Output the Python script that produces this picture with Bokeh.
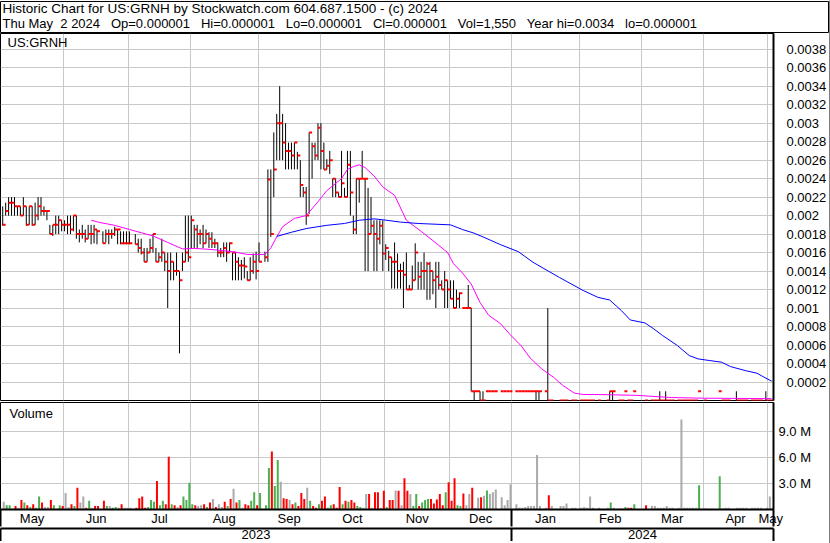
import numpy as np
import pandas as pd
from bokeh.plotting import figure
from bokeh.layouts import column, row
from bokeh.models import (ColumnDataSource, Range1d, LinearAxis, FixedTicker,
                          Grid, Label)
from bokeh.transform import dodge
from bokeh.embed import file_html
from bokeh.resources import INLINE

# ------------------------------------------------------------------ data
symbol = "US:GRNH"
header_line1 = "Historic Chart for US:GRNH by Stockwatch.com 604.687.1500 - (c) 2024"
header_line2 = ("Thu May\u00a0\u00a02 2024\u00a0\u00a0\u00a0Op=0.000001\u00a0\u00a0\u00a0"
                "Hi=0.000001\u00a0\u00a0\u00a0Lo=0.000001\u00a0\u00a0\u00a0Cl=0.000001"
                "\u00a0\u00a0\u00a0Vol=1,550\u00a0\u00a0\u00a0Year hi=0.0034\u00a0\u00a0\u00a0lo=0.000001")

first_day = "2023-05-03"
last_day = "2024-05-02"

# daily prices in units of 0.0001 (None = no trade that day)
high_e4 = [
    21.0, 21.4, 22.0, 22.0, 22.0, 21.0, 21.0, 22.0, 21.0, 21.0,
    21.0, 21.4, 22.0, 22.0, 21.0, 20.5, 19.0, 19.0, 20.0, 20.0,
    19.5, 19.5, 20.0, 20.0, 20.0, 20.0, 18.5, 19.0, 18.5, 19.0,
    19.0, 19.0, 18.5, None, 18.3, 18.5, 18.5, 18.5, 18.8, 18.5,
    18.3, 18.3, 18.3, 18.3, None, 18.0, 17.5, 17.5, 16.5, 16.5,
    17.5, 18.0, 16.5, 16.0, 17.5, 16.0, 16.0, 16.0, 15.0, 16.0,
    14.0, 16.0, 20.0, 20.0, 20.0, 19.0, 19.0, 18.5, 19.0, 18.5,
    18.2, 18.2, 17.5, 17.1, 16.5, 17.1, 17.1, 17.1, 16.0, 16.0,
    15.5, 15.2, 15.5, 14.0, 15.5, 15.9, 16.1, 17.1, None, 16.1,
    25.0, 25.0, 29.0, 31.0, 34.0, 31.0, 30.0, 27.9, 27.9, 27.9,
    26.9, 26.0, 23.1, 23.1, 29.0, 27.9, 27.9, 30.0, 30.0, 27.9,
    26.1, 27.0, 24.0, 24.0, 22.5, 27.0, 23.0, 27.0, 27.0, 20.0,
    24.0, 24.0, 27.0, 24.0, 23.0, 22.0, 19.5, 19.5, 19.5, 19.5,
    16.9, 16.2, 15.5, 17.1, 15.9, 14.8, 15.0, 16.0, 12.5, 14.6,
    17.0, 15.0, 15.0, 16.0, 15.0, 15.0, 14.0, 15.0, 15.0, 13.0,
    14.0, 13.0, 13.0, 13.0, 12.0, 11.7, 10.0, 10.0, 12.5, 10.0,
    1.0, 1.0, 1.0, 1.0, 1.0, 1.0, 1.0, 1.0, None, 1.0,
    1.0, 1.0, 1.0, None, 1.0, 1.0, 1.0, 1.0, 1.0, 1.0,
    1.0, 1.0, 1.0, None, 1.0, 10.0, 0.01, None, None, 0.01,
    0.01, 0.01, None, 0.01, 0.01, None, 0.01, 0.01, 0.01, 0.01,
    0.01, None, 0.01, None, None, 0.01, 1.0, 1.0, None, 0.01,
    0.01, 1.0, 0.01, 0.01, 1.0, None, None, None, 0.01, None,
    0.01, 0.01, 0.01, 1.0, 0.01, 1.0, 0.01, 0.01, None, 0.01,
    0.01, 0.01, 0.01, 0.01, 0.01, 0.01, 1.0, None, 0.01, None,
    None, None, None, 1.0, 0.01, 0.01, 0.01, None, None, 1.0,
    0.01, 0.01, 0.01, None, 0.01, 0.01, 0.01, 0.01, None, 1.0, 0.01, 0.01,
]
low_e4 = [
    18.9, 20.0, 20.0, 20.0, 20.0, 20.0, 20.0, 20.0, 18.9, 19.0,
    18.9, 19.0, 19.5, 20.0, 20.0, 19.5, 18.0, 17.8, 18.0, 18.0,
    18.3, 18.3, 18.0, 18.0, 18.3, 17.5, 17.1, 17.5, 17.1, 17.5,
    16.9, 17.0, 16.9, None, 17.0, 17.1, 16.9, 17.5, 17.8, 16.9,
    16.9, 16.9, 16.9, 16.9, None, 16.9, 16.0, 15.8, 15.0, 15.0,
    16.0, 16.0, 15.0, 15.0, 15.0, 14.0, 10.0, 13.0, 13.0, 13.5,
    5.1, 14.0, 15.0, 15.0, 16.5, 16.5, 16.5, 16.9, 16.5, 17.0,
    16.5, 16.5, 16.5, 15.5, 15.5, 15.5, 15.0, 16.0, 13.0, 13.0,
    13.0, 13.0, 13.2, 13.0, 13.0, 13.7, 13.1, 15.0, None, 15.0,
    15.0, 17.7, 22.0, 26.0, 26.0, 26.0, 25.0, 25.0, 25.0, 25.0,
    25.0, 22.0, 22.0, 19.0, 20.2, 24.0, 26.0, 26.0, 25.0, 25.0,
    25.0, 24.5, 22.0, 22.0, 22.0, 22.0, 22.0, 22.0, 20.0, 18.0,
    18.0, 21.4, 24.0, 14.0, 14.0, 18.0, 14.0, 14.0, 16.9, 14.0,
    15.2, 14.0, 12.1, 12.1, 12.1, 12.1, 10.0, 12.0, 12.0, 12.0,
    13.0, 12.0, 12.0, 12.0, 10.9, 10.9, 11.5, 10.0, 12.0, 12.0,
    10.0, 10.0, 11.0, 10.0, 10.0, 10.0, 10.0, 10.0, 10.0, 1.0,
    0.01, 1.0, 0.01, 0.01, 1.0, 1.0, 1.0, 1.0, None, 1.0,
    1.0, 1.0, 1.0, None, 1.0, 1.0, 1.0, 1.0, 1.0, 1.0,
    1.0, 0.01, 0.01, None, 1.0, 0.01, 0.01, None, None, 0.01,
    0.01, 0.01, None, 0.01, 0.01, None, 0.01, 0.01, 0.01, 0.01,
    0.01, None, 0.01, None, None, 0.01, 0.01, 0.01, None, 0.01,
    0.01, 1.0, 0.01, 0.01, 1.0, None, None, None, 0.01, None,
    0.01, 0.01, 0.01, 0.01, 0.01, 0.01, 0.01, 0.01, None, 0.01,
    0.01, 0.01, 0.01, 0.01, 0.01, 0.01, 1.0, None, 0.01, None,
    None, None, None, 1.0, 0.01, 0.01, 0.01, None, None, 0.01,
    0.01, 0.01, 0.01, None, 0.01, 0.01, 0.01, 0.01, None, 0.01, 0.01, 0.01,
]
close_e4 = [
    19.0, 20.5, 21.4, 21.4, 21.0, 21.0, 20.0, 21.0, 19.0, 21.0,
    19.0, 20.0, 21.0, 20.5, 20.5, 20.5, 18.0, 19.0, 19.0, 19.5,
    19.0, 19.0, 19.0, 18.5, 20.0, 18.0, 18.0, 18.0, 17.5, 18.0,
    18.0, 18.5, 18.3, None, 17.0, 18.0, 18.0, 18.0, 18.5, 18.5,
    17.0, 17.0, 17.0, 17.0, None, 16.9, 16.5, 16.0, 15.0, 16.0,
    16.5, 18.0, 15.0, 15.5, 16.0, 15.0, 14.0, 15.0, 14.0, 14.0,
    13.0, 15.0, 16.0, 15.5, 19.5, 18.5, 18.0, 18.0, 17.0, 18.0,
    17.5, 17.0, 17.0, 16.0, 16.0, 16.5, 16.0, 17.0, 16.0, 15.0,
    14.6, 14.6, 14.5, 13.0, 14.0, 15.0, 14.0, 15.0, None, 15.5,
    23.9, 18.0, 25.0, 30.0, 30.0, 27.9, 27.0, 27.0, 26.5, 27.9,
    26.5, 23.3, 22.5, 20.0, 29.0, 27.5, 26.5, 29.5, 27.0, 25.0,
    25.4, 26.0, 24.0, 22.5, 22.0, 23.5, 22.0, 25.5, 22.5, 18.5,
    24.0, 24.0, 24.0, 24.0, 18.0, 18.9, 18.0, 17.5, 18.9, 15.9,
    16.5, 15.5, 15.0, 15.0, 14.0, 14.0, 13.6, 12.0, 12.0, 13.0,
    16.0, 13.4, 14.0, 14.0, 14.8, 14.0, 13.0, 13.4, 12.5, 12.0,
    13.0, 12.0, 11.0, 10.0, 11.0, 11.6, 10.0, 10.0, 10.0, 1.0,
    1.0, 1.0, 0.01, 0.01, 1.0, 1.0, 1.0, 1.0, None, 1.0,
    1.0, 1.0, 1.0, None, 1.0, 1.0, 1.0, 1.0, 1.0, 1.0,
    1.0, 1.0, 1.0, None, 1.0, 0.01, 0.01, None, None, 0.01,
    0.01, 0.01, None, 0.01, 0.01, None, 0.01, 0.01, 0.01, 0.01,
    0.01, None, 0.01, None, None, 0.01, 1.0, 1.0, None, 0.01,
    0.01, 1.0, 0.01, 0.01, 1.0, None, None, None, 0.01, None,
    0.01, 0.01, 0.01, 0.01, 0.01, 0.01, 0.01, 0.01, None, 0.01,
    0.01, 0.01, 0.01, 0.01, 0.01, 0.01, 1.0, None, 0.01, None,
    None, None, None, 1.0, 0.01, 0.01, 0.01, None, None, 0.01,
    0.01, 0.01, 0.01, None, 0.01, 0.01, 0.01, 0.01, None, 0.01, 0.01, 0.01,
]
# daily volume, millions of shares
volume_m = [
    0.9, 0.5, 0.5, 0.1, 0.4, 0.2, 1.1, 0.8, 0.5, 0.3,
    0.6, 0.2, 1.5, 0.8, 0.3, 0.3, 1.1, 0.5, 0.1, 0.5,
    0.4, 1.9, 0.3, 0.6, 0.4, 2.5, 0.8, 1.5, 0.2, 1.0,
    0.2, 0.4, 0.4, None, 1.0, 0.4, 0.4, 0.2, 0.3, 0.2,
    0.6, 0.2, 0.2, 0.2, None, 0.2, 1.3, 1.5, 0.2, 0.3,
    1.1, 0.9, 3.3, 0.5, 1.0, 0.6, 6.1, 0.6, 0.5, 0.3,
    0.5, 1.5, 1.1, 3.1, 0.6, 0.5, 0.4, 0.5, 0.6, 0.3,
    0.8, 1.2, 0.3, 0.6, 0.3, 0.9, 0.4, 1.2, 2.4, 0.8,
    1.1, 0.2, 0.6, 0.5, 1.0, 2.0, 0.5, 1.9, None, 0.5,
    4.8, 6.7, 2.7, 5.7, 3.2, 1.3, 1.2, 1.1, 0.6, 0.8,
    0.4, 1.9, 1.2, 2.5, 1.0, 0.4, 0.2, 0.6, 1.0, 1.5,
    0.2, 0.5, 0.6, 0.2, 2.6, 0.6, 1.0, 0.9, 1.1, 0.8,
    0.4, 0.3, 0.2, 1.8, 1.8, 0.2, 2.0, 2.0, 0.2, 2.15,
    0.3, 1.1, 1.1, 2.2, 2.15, 0.5, 3.6, 2.15, 1.8, 0.4,
    1.8, 0.4, 0.8, 1.1, 1.2, 1.2, 0.7, 1.15, 1.8, 0.5,
    2.0, 3.15, 1.0, 3.6, 0.5, 0.4, 1.85, 0.5, 1.8, 2.5,
    0.2, 1.35, 1.4, 1.6, 2.2, 1.8, 2.0, 2.3, None, 1.4,
    0.5, 1.1, 2.9, None, 0.6, 0.2, 0.2, 0.3, 0.4, 0.4,
    0.4, 6.3, 0.4, None, 0.2, 1.65, 0.4, None, None, 0.4,
    0.4, 0.7, None, 0.2, 0.2, None, 0.2, 0.3, 0.2, 1.5,
    0.2, None, 0.2, None, None, 0.2, 0.8, 0.2, None, 0.1,
    0.1, 0.3, 0.2, 0.2, 0.6, None, None, None, 0.5, None,
    0.4, 0.4, 0.2, 0.2, 0.2, 0.4, 0.2, 0.2, None, 0.2,
    10.4, 0.2, 0.2, 0.2, 0.2, 0.2, 2.8, None, 0.1, None,
    None, None, None, 3.85, 0.1, 0.2, 0.2, None, None, 0.2,
    0.2, 0.2, 0.2, None, 0.2, 0.2, 0.2, 0.2, None, 0.2, 1.5, 0.2,
]
# day direction: u = up, d = down, n = unchanged, - = no trade
direction = ("nuundndudu duudnndunu dnndudnndu ndd-dunuun dnnn-ddddu "
             "uuduuddudn duuuudnndu dndnndudnd undduudu-u uduunddndu "
             "dddnuddudd uudddududd uunndnddnd uddndnddnu uduuuddddd "
             "uddduudnnd nndnunnn-n nnn-nnnnnn nnn-ndn--n nn-nn-nnnn "
             "n-n--nun-d duddu---d- nnnnnnnn-n nnnnnnu-d- ---udnn--n "
             "nnn-nnnn-nnn")

# moving averages (trading-day number, value in units of 0.0001)
ma_short_day = [30, 33, 38, 43, 47, 51, 56, 61, 65, 68, 72, 78, 83, 89, 91, 93, 95, 99,
                103, 107, 110, 115, 117, 119, 121, 123, 126, 129, 133, 137, 142, 146,
                151, 153, 156, 159, 162, 165, 169, 172, 176, 179, 183, 187, 190, 194,
                197, 201, 215, 227, 238, 261]
ma_short_e4 = [19.5, 19.25, 18.95, 18.5, 18.15, 17.8, 17.1, 16.4, 16.45, 16.4, 16.3, 16.1,
               15.8, 15.8, 16.5, 17.7, 18.8, 19.7, 20.0, 21.5, 22.7, 24.0, 25.0, 25.3,
               25.5, 25.2, 24.3, 23.1, 22.2, 19.5, 18.3, 17.3, 16.0, 14.8, 13.8, 12.6,
               10.6, 9.2, 8.3, 7.2, 5.9, 4.6, 3.4, 2.5, 1.65, 0.8, 0.65, 0.65, 0.56,
               0.32, 0.25, 0.2]
ma_long_day = [93, 98, 103, 110, 116, 121, 126, 129, 135, 141, 152, 156, 160, 163, 169,
               175, 180, 189, 197, 202, 206, 210, 213, 218, 221, 224, 229, 233, 236, 240,
               244, 247, 252, 256, 258, 261]
ma_long_e4 = [17.75, 18.2, 18.6, 18.95, 19.15, 19.5, 19.65, 19.55, 19.3, 19.15, 19.0,
              18.5, 18.1, 17.7, 16.85, 16.1, 14.95, 13.3, 11.9, 11.16, 10.87, 9.72, 8.71,
              8.39, 7.74, 7.02, 5.94, 4.86, 4.5, 4.32, 4.14, 3.67, 3.24, 2.95, 2.59, 2.09]

price_tick_labels = ["0.0002", "0.0004", "0.0006", "0.0008", "0.001", "0.0012", "0.0014",
                     "0.0016", "0.0018", "0.002", "0.0022", "0.0024", "0.0026", "0.0028",
                     "0.003", "0.0032", "0.0034", "0.0036", "0.0038"]
volume_ticks_m = [3, 6, 9]
volume_tick_labels = ["3.0 M", "6.0 M", "9.0 M"]

# ------------------------------------------------------------------ styles
FONT = "Liberation Sans"
RED, GREEN, GRAY = "#ff0000", "#4caf50", "#aaaaaa"
GRID = "#c8c8c8"
FW = 773          # frame width (px)
RIGHT = 56        # right axis panel width
PH = 367          # price frame height
VH = 107          # volume frame height
HH = 32           # header frame height
X0, X1 = -0.75, 261.6

# ------------------------------------------------------------------ prep
dates = pd.bdate_range(first_day, last_day)
n = len(dates)
idx = np.arange(n)


def arr(a, scale=1.0):
    return np.array([np.nan if v is None else v * scale for v in a], dtype=float)


hi = arr(high_e4, 1e-4)
lo = arr(low_e4, 1e-4)
cl = arr(close_e4, 1e-4)
vol = arr(volume_m, 1e6)
dirs = direction.replace(" ", "")
vcol = [{"u": GREEN, "d": RED}.get(c, GRAY) for c in dirs]
src = ColumnDataSource(dict(i=idx, hi=hi, lo=lo, cl=cl, vol=vol, vcol=vcol))

starts = [k for k in range(1, n) if dates[k].month != dates[k - 1].month]
month_grid = [s - 0.3 for s in starts]
bounds = [X0] + month_grid + [X1]
seg_first = [0] + starts
month_centers = [(bounds[k] + bounds[k + 1]) / 2 for k in range(len(seg_first))]
month_names = [dates[s].strftime("%b") for s in seg_first]
jan_div = [g for g, s in zip(month_grid, starts) if dates[s].month == 1][0]
year_centers = [(X0 + jan_div) / 2, (jan_div + X1) / 2]
year_names = [str(dates[0].year), str(dates[-1].year)]

price_ticks = [float(s) for s in price_tick_labels]
vol_ticks = [v * 1e6 for v in volume_ticks_m]

xr = Range1d(X0, X1)


def style_right_axis(ax, ticks, labels, standoff):
    ax.ticker = FixedTicker(ticks=ticks)
    ax.major_label_overrides = {t: s for t, s in zip(ticks, labels)}
    ax.major_tick_in = 0
    ax.major_tick_out = 0
    ax.minor_tick_in = 0
    ax.minor_tick_out = 0
    ax.axis_line_color = "black"
    ax.axis_line_width = 2
    ax.major_label_standoff = standoff
    ax.major_label_text_font = FONT
    ax.major_label_text_font_size = "13px"
    ax.major_label_text_color = "black"


def text_label(x, y, text, size="13px"):
    return Label(x=x, y=y, x_units="screen", y_units="screen", text=text,
                 text_font=FONT, text_font_size=size, text_baseline="middle",
                 text_color="black")


def edge_line(w, hgt):
    """A solid black strip used for the outer border of the chart box."""
    f = figure(frame_width=w, frame_height=hgt, x_range=Range1d(0, 1), y_range=Range1d(0, 1),
               x_axis_location=None, y_axis_location=None, title=None,
               output_backend="svg", toolbar_location=None,
               min_border_left=0, min_border_right=0, min_border_top=0, min_border_bottom=0)
    f.grid.visible = False
    f.outline_line_color = None
    f.background_fill_color = "black"
    f.border_fill_color = "black"
    return f


# ------------------------------------------------------------------ header band
h = figure(frame_width=FW + RIGHT, frame_height=HH, x_range=Range1d(0, 1),
           y_range=Range1d(0, 1), x_axis_location=None, y_axis_location=None,
           title=None, output_backend="svg", toolbar_location=None,
           min_border_left=0, min_border_right=0, min_border_top=1, min_border_bottom=0)
h.grid.visible = False
h.outline_line_color = "black"
h.outline_line_width = 1
h.add_layout(text_label(2, HH - 6.5, header_line1, "13.5px"))
h.add_layout(text_label(2, HH - 21.5, header_line2))

# ------------------------------------------------------------------ price panel
p = figure(frame_width=FW, frame_height=PH, x_range=xr, y_range=Range1d(0, 0.00397),
           x_axis_location=None, y_axis_location="right", title=None,
           output_backend="svg", toolbar_location=None,
           min_border_left=0, min_border_right=RIGHT, min_border_top=0,
           min_border_bottom=1)
p.outline_line_color = "black"
p.outline_line_width = 1
p.background_fill_color = "white"
style_right_axis(p.yaxis[0], price_ticks, price_tick_labels, 13)
p.ygrid.ticker = FixedTicker(ticks=price_ticks)
p.ygrid.grid_line_color = GRID
p.xgrid.grid_line_color = None
p.add_layout(Grid(dimension=0, ticker=FixedTicker(ticks=month_grid),
                  grid_line_color=GRID, grid_line_width=1))

p.segment(x0="i", y0="lo", x1="i", y1="hi", source=src, line_color="black", line_width=1)
p.rect(x=dodge("i", 0.5, range=xr), y="cl", width=1.0, height=2, height_units="screen",
       source=src, fill_color=RED, line_color=None)
p.line(ma_short_day, [val * 1e-4 for val in ma_short_e4], line_color="#ff00ff", line_width=1)
p.line(ma_long_day, [val * 1e-4 for val in ma_long_e4], line_color="#0000ff", line_width=1)
p.add_layout(text_label(7, PH - 9, symbol))

# ------------------------------------------------------------------ volume panel
v = figure(frame_width=FW, frame_height=VH, x_range=xr, y_range=Range1d(0, 12.35e6),
           x_axis_location=None, y_axis_location="right", title=None,
           output_backend="svg", toolbar_location=None,
           min_border_left=0, min_border_right=RIGHT, min_border_top=1, min_border_bottom=0)
v.outline_line_color = "black"
v.outline_line_width = 1
style_right_axis(v.yaxis[0], vol_ticks, volume_tick_labels, 5)
v.ygrid.ticker = FixedTicker(ticks=vol_ticks)
v.ygrid.grid_line_color = GRID
v.xgrid.grid_line_color = None
v.add_layout(Grid(dimension=0, ticker=FixedTicker(ticks=month_grid),
                  grid_line_color=GRID, grid_line_width=1))
v.vbar(x=dodge("i", 0.35, range=xr), top="vol", bottom=0, width=0.68, source=src,
       fill_color="vcol", line_color=None)
v.add_layout(text_label(9, VH - 11, "Volume"))

edges = [X0 + 0.1, jan_div, X1 - 0.1]


def date_axis(ticks, labels, rowh):
    ax = LinearAxis(ticker=FixedTicker(ticks=ticks, minor_ticks=edges))
    ax.major_label_overrides = {t: s for t, s in zip(ticks, labels)}
    ax.major_tick_in = 0
    ax.major_tick_out = 0
    ax.minor_tick_in = 0
    ax.minor_tick_out = rowh
    ax.minor_tick_line_color = "black"
    ax.minor_tick_line_width = 2
    ax.axis_line_color = "black"
    ax.axis_line_width = 2
    ax.major_label_standoff = -(rowh - 1)
    ax.major_label_text_font = FONT
    ax.major_label_text_font_size = "13px"
    ax.major_label_text_color = "black"
    return ax


v.add_layout(date_axis(month_centers, month_names, 17), "below")
v.add_layout(date_axis(year_centers, year_names, 16), "below")

main = column(h, p, v, edge_line(FW + RIGHT, 1), spacing=0)
layout = row(main, edge_line(1, 543), spacing=0)
open("out.html", "w").write(file_html(layout, INLINE))
